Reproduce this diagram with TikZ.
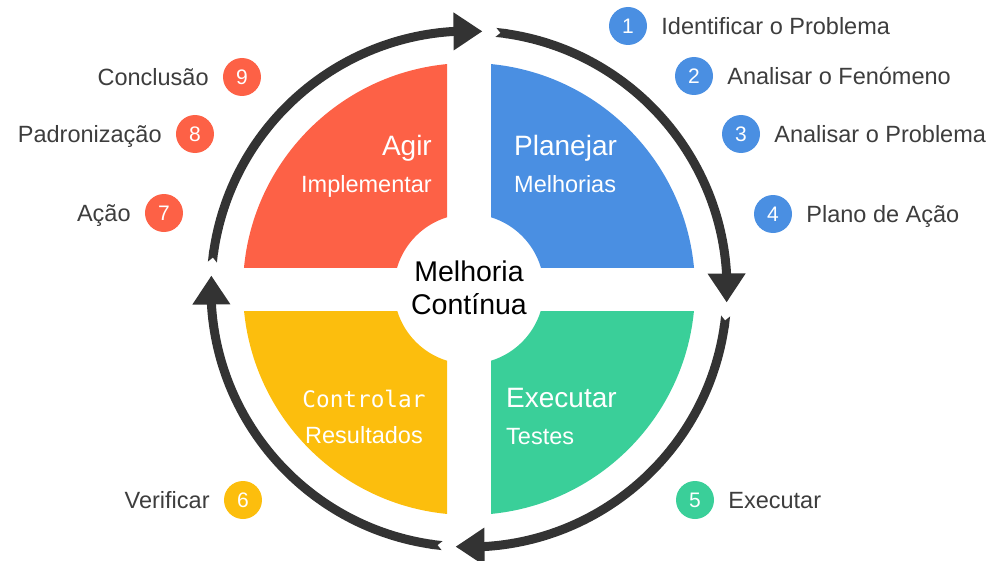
\documentclass[tikz,border=0pt]{standalone}
\usepackage{fontspec}
\setmainfont{Liberation Sans}
\newfontfamily\codefont{DejaVu Sans Mono}
\usepackage{xcolor}
\usepackage{tikz}
\usetikzlibrary{arrows.meta,bending,positioning}

\definecolor{agir}{HTML}{FD6146}
\definecolor{planejar}{HTML}{4A8FE2}
\definecolor{executar}{HTML}{3ACF99}
\definecolor{controlar}{HTML}{FCBE0D}
\definecolor{ringgray}{HTML}{333333}
\definecolor{txtgray}{HTML}{3D3D3D}

\begin{document}
\begin{tikzpicture}[x=1pt,y=1pt,
    cycle arrow/.style={ringgray,line width=9pt,
      {Triangle Cap[reversed]}-{Triangle[length=29pt,width=36pt]}},
    badge/.style={circle,fill=#1,text=white,minimum size=38pt,inner sep=0pt,
      font=\fontsize{21}{21}\selectfont},
    lbl/.style={text=txtgray,inner sep=0pt,text height=16.8pt,text depth=0pt,
      font=\fontsize{23.5}{26}\selectfont},
    big/.style={text=white,inner sep=0pt,font=\fontsize{28}{30}\selectfont},
    small/.style={text=white,inner sep=0pt,font=\fontsize{23.5}{26}\selectfont}]
    \useasboundingbox (-469,-271) rectangle (531,289);

    % quadrants
    \foreach \sx/\sy/\col in {-1/1/agir,1/1/planejar,1/-1/executar,-1/-1/controlar}{
      \begin{scope}
        \clip (22*\sx,22*\sy) rectangle (240*\sx,240*\sy);
        \fill[\col,even odd rule] (0,0) circle[radius=226] circle[radius=75];
      \end{scope}
    }

    % ring of arrows
    \foreach \s/\e in {84/-3,-6/-93,-96/-183,174/87}
      \draw[cycle arrow] (\s:258) arc[start angle=\s,end angle=\e,radius=258];

    % centre
    \node[anchor=base,inner sep=0pt,font=\fontsize{28.5}{30}\selectfont] (centre1) at (0,8) {Melhoria};
    \node[anchor=base,inner sep=0pt,font=\fontsize{28.5}{30}\selectfont] (centre2) at (0,-25) {Contínua};

    \node[big,anchor=base east] (agir) at (-37,134) {Agir};
    \node[small,anchor=base east] (agir sub) at (-37,97) {Implementar};
    \node[big,anchor=base west] (planejar) at (45,134) {Planejar};
    \node[small,anchor=base west] (planejar sub) at (45,97) {Melhorias};
    \node[big,anchor=base west] (executar) at (37,-118) {Executar};
    \node[small,anchor=base west] (executar sub) at (37,-155) {Testes};
    \node[anchor=base,inner sep=0pt,text=white,font=\codefont\fontsize{22.7}{26}\selectfont] (controlar) at (-105,-118) {Controlar};
    \node[small,anchor=base] (controlar sub) at (-105,-154) {Resultados};

    % steps, right side
    \node[badge=planejar] (b1) at (159,263) {1};
    \node[lbl,right=14pt of b1] (l1) {Identificar o Problema};
    \node[badge=planejar] (b2) at (225,213) {2};
    \node[lbl,right=14pt of b2] (l2) {Analisar o Fenómeno};
    \node[badge=planejar] (b3) at (272,155) {3};
    \node[lbl,right=14pt of b3] (l3) {Analisar o Problema};
    \node[badge=planejar] (b4) at (304,75) {4};
    \node[lbl,right=14pt of b4] (l4) {Plano de Ação};
    \node[badge=executar] (b5) at (226,-211) {5};
    \node[lbl,right=14pt of b5] (l5) {Executar};

    % steps, left side
    \node[badge=controlar] (b6) at (-226,-211) {6};
    \node[lbl,left=14pt of b6] (l6) {Verificar};
    \node[badge=agir] (b7) at (-305,76) {7};
    \node[lbl,left=14pt of b7] (l7) {Ação};
    \node[badge=agir] (b8) at (-274,155) {8};
    \node[lbl,left=14pt of b8] (l8) {Padronização};
    \node[badge=agir] (b9) at (-227,212) {9};
    \node[lbl,left=14pt of b9] (l9) {Conclusão};
\end{tikzpicture}
\end{document}
